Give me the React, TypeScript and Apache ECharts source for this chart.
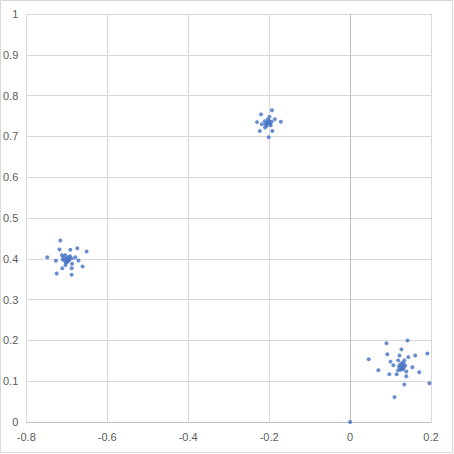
import React, { useEffect, useRef } from "react";
import * as echarts from "echarts";

const xTicks = { min: -0.8, max: 0.2, interval: 0.2 };
const yTicks = { min: 0, max: 1, interval: 0.1 };

const clusterA: [number, number][] = [
  [-0.716, 0.445], [-0.718, 0.423], [-0.691, 0.422], [-0.674, 0.426], [-0.651, 0.418],
  [-0.748, 0.404], [-0.712, 0.409], [-0.727, 0.395], [-0.671, 0.396], [-0.679, 0.404],
  [-0.703, 0.385], [-0.687, 0.388], [-0.661, 0.381], [-0.711, 0.377], [-0.688, 0.377],
  [-0.725, 0.364], [-0.688, 0.361],
  [-0.701, 0.4], [-0.697, 0.404], [-0.705, 0.396], [-0.694, 0.398], [-0.708, 0.403],
  [-0.699, 0.392], [-0.692, 0.406], [-0.704, 0.409], [-0.71, 0.398], [-0.696, 0.395],
  [-0.688, 0.401], [-0.702, 0.391],
];

const clusterB: [number, number][] = [
  [-0.193, 0.764], [-0.22, 0.754], [-0.199, 0.748], [-0.23, 0.735], [-0.186, 0.742],
  [-0.171, 0.736], [-0.218, 0.73], [-0.223, 0.713], [-0.192, 0.713], [-0.201, 0.698],
  [-0.21, 0.722],
  [-0.205, 0.734], [-0.2, 0.738], [-0.208, 0.73], [-0.198, 0.731], [-0.203, 0.742],
  [-0.211, 0.737], [-0.196, 0.727], [-0.206, 0.726], [-0.194, 0.736], [-0.202, 0.733],
];

const clusterC: [number, number][] = [
  [0.142, 0.2], [0.09, 0.193], [0.127, 0.178], [0.092, 0.166], [0.122, 0.163],
  [0.144, 0.159], [0.161, 0.163], [0.191, 0.168], [0.046, 0.154], [0.1, 0.148],
  [0.119, 0.151], [0.134, 0.151], [0.107, 0.139], [0.154, 0.134], [0.07, 0.127],
  [0.119, 0.127], [0.171, 0.122], [0.097, 0.117], [0.115, 0.117], [0.139, 0.124],
  [0.139, 0.112], [0.196, 0.095], [0.134, 0.092], [0.11, 0.061],
  [0.128, 0.137], [0.124, 0.141], [0.132, 0.133], [0.126, 0.131], [0.133, 0.142],
  [0.121, 0.136], [0.136, 0.138], [0.129, 0.145], [0.125, 0.128], [0.131, 0.129],
];

const origin: [number, number][] = [[0, 0]];

const fmt = (v: number) => String(Math.round(v * 10) / 10);

export default function App() {
  const ref = useRef<HTMLDivElement>(null);
  useEffect(() => {
    const chart = echarts.init(ref.current!, null, { renderer: "svg" });
    const labelStyle = { color: "#595959", fontSize: 11, fontFamily: "Liberation Sans, Arial, sans-serif" };
    chart.setOption({
      animation: false,
      backgroundColor: "#ffffff",
      graphic: [
        {
          type: "rect",
          shape: { x: 0.5, y: 0.5, width: 452, height: 452 },
          style: { fill: "none", stroke: "#d9d9d9", lineWidth: 1 },
          silent: true,
        },
      ],
      grid: { left: 25, right: 23, top: 14, bottom: 32, containLabel: false },
      xAxis: {
        type: "value",
        min: xTicks.min,
        max: xTicks.max,
        interval: xTicks.interval,
        axisLine: { show: true, onZero: true, lineStyle: { color: "#bfbfbf" } },
        axisTick: { show: false },
        axisLabel: { ...labelStyle, margin: 9, formatter: fmt },
        splitLine: { show: true, lineStyle: { color: "#d9d9d9" } },
      },
      yAxis: {
        type: "value",
        min: yTicks.min,
        max: yTicks.max,
        interval: yTicks.interval,
        axisLine: { show: true, onZero: true, lineStyle: { color: "#bfbfbf" } },
        axisTick: { show: false },
        axisLabel: { ...labelStyle, margin: 8, formatter: fmt },
        splitLine: { show: true, lineStyle: { color: "#d9d9d9" } },
      },
      series: [
        {
          type: "scatter",
          data: [...clusterA, ...clusterB, ...clusterC, ...origin],
          symbol: "circle",
          symbolSize: 4,
          itemStyle: { color: "#4472C4" },
        },
      ],
    });
    return () => chart.dispose();
  }, []);
  return (
    <div
      ref={ref}
      style={{ position: "absolute", left: 0, top: 0, width: 454, height: 454 }}
    />
  );
}
